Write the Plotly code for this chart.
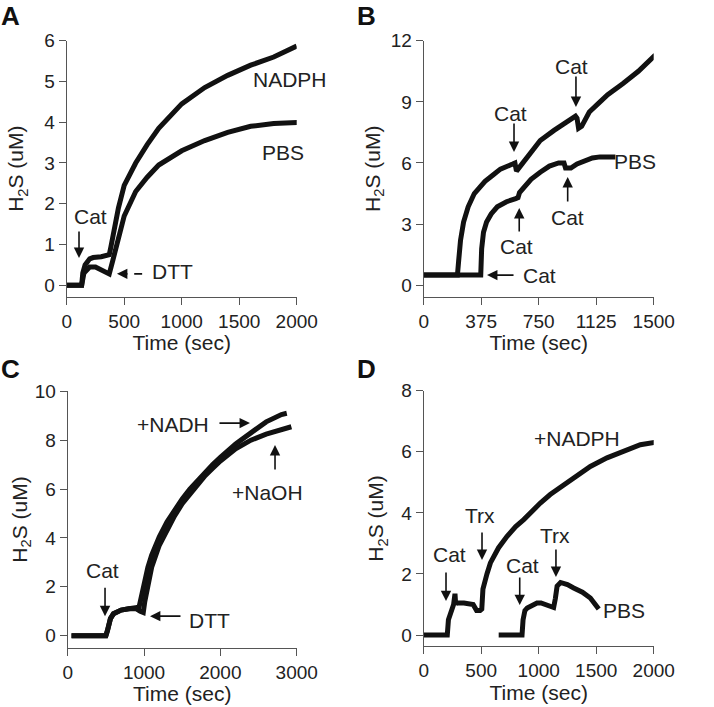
import plotly.graph_objects as go

# ---------------- data ----------------
# Panel A
a_nadph_t = [0, 60, 130, 140, 160, 200, 230, 300, 370, 385, 400, 450, 500, 600, 700, 800, 1000, 1200, 1400, 1600, 1800, 2000]
a_nadph_v = [0, 0, 0, 0.3, 0.5, 0.65, 0.68, 0.7, 0.75, 0.95, 1.2, 1.9, 2.45, 3.0, 3.45, 3.85, 4.45, 4.85, 5.15, 5.4, 5.6, 5.87]
a_pbs_t = [0, 60, 130, 150, 200, 250, 300, 370, 400, 450, 500, 600, 700, 800, 1000, 1200, 1400, 1600, 1800, 2040]
a_pbs_v = [0, 0, 0, 0.3, 0.45, 0.45, 0.38, 0.28, 0.6, 1.2, 1.7, 2.3, 2.65, 2.95, 3.3, 3.55, 3.75, 3.9, 3.97, 4.0]

# Panel B
b_nadph_t = [0, 100, 220, 228, 240, 260, 290, 330, 400, 450, 500, 580, 595, 605, 620, 650, 700, 760, 850, 950, 990, 1000, 1010, 1030, 1080, 1150, 1200, 1300, 1400, 1510]
b_nadph_v = [0.5, 0.5, 0.5, 1.2, 2.2, 3.1, 3.85, 4.5, 5.1, 5.4, 5.7, 5.95, 6.0, 5.6, 5.75, 6.1, 6.6, 7.1, 7.6, 8.1, 8.3, 8.2, 7.7, 7.8, 8.5, 9.0, 9.35, 9.9, 10.5, 11.3]
b_pbs_t = [0, 100, 250, 372, 378, 390, 410, 440, 480, 540, 600, 615, 625, 660, 700, 760, 820, 880, 915, 925, 960, 1000, 1050, 1100, 1150, 1200, 1250]
b_pbs_v = [0.5, 0.5, 0.5, 0.5, 1.8, 2.6, 3.1, 3.5, 3.85, 4.1, 4.25, 4.3, 4.55, 4.9, 5.2, 5.55, 5.85, 6.0, 6.0, 5.75, 5.75, 5.95, 6.1, 6.25, 6.3, 6.3, 6.3]

# Panel C
c_nadh_t = [50, 300, 500, 520, 560, 600, 700, 800, 900, 930, 960, 1000, 1050, 1100, 1200, 1300, 1400, 1500, 1600, 1700, 1800, 1900, 2000, 2200, 2400, 2600, 2800, 2870]
c_nadh_v = [0, 0, 0, 0.2, 0.7, 0.9, 1.05, 1.1, 1.15, 1.1, 1.5, 2.2, 2.8, 3.3, 4.05, 4.65, 5.15, 5.6, 6.0, 6.35, 6.7, 7.0, 7.3, 7.85, 8.3, 8.75, 9.05, 9.1]
c_naoh_t = [50, 300, 500, 520, 560, 600, 700, 800, 900, 950, 990, 1010, 1050, 1100, 1200, 1300, 1400, 1500, 1600, 1700, 1800, 1900, 2000, 2200, 2400, 2600, 2800, 2930]
c_naoh_v = [0, 0, 0, 0.2, 0.7, 0.9, 1.05, 1.1, 1.1, 1.0, 0.95, 1.4, 2.1, 2.8, 3.7, 4.35, 4.9, 5.4, 5.8, 6.2, 6.55, 6.85, 7.15, 7.65, 8.0, 8.25, 8.45, 8.55]

# Panel D
d_nadph_t = [0, 100, 205, 215, 232, 260, 272, 278, 285, 300, 350, 430, 460, 490, 505, 515, 530, 550, 580, 650, 725, 800, 870, 950, 1014, 1100, 1159, 1304, 1449, 1594, 1739, 1884, 2014]
d_nadph_v = [0, 0, 0, 0.5, 0.7, 1.0, 1.35, 1.0, 1.05, 1.05, 1.05, 1.0, 0.8, 0.8, 0.85, 1.5, 1.8, 2.0, 2.36, 2.85, 3.23, 3.55, 3.78, 4.1, 4.32, 4.6, 4.76, 5.14, 5.52, 5.8, 6.0, 6.23, 6.31]
d_pbs_t = [652, 750, 855, 864, 880, 900, 950, 985, 1020, 1060, 1100, 1130, 1145, 1160, 1190, 1250, 1304, 1380, 1449, 1500, 1522]
d_pbs_v = [0, 0, 0, 0.5, 0.8, 0.88, 0.98, 1.05, 1.05, 0.98, 0.93, 0.9, 1.2, 1.6, 1.72, 1.65, 1.54, 1.4, 1.21, 1.0, 0.85]

# axis ticks
a_xticks = [0, 500, 1000, 1500, 2000]
a_yticks = [0, 1, 2, 3, 4, 5, 6]
b_xticks = [0, 375, 750, 1125, 1500]
b_yticks = [0, 3, 6, 9, 12]
c_xticks = [0, 1000, 2000, 3000]
c_yticks = [0, 2, 4, 6, 8, 10]
d_xticks = [0, 500, 1000, 1500, 2000]
d_yticks = [0, 2, 4, 6, 8]

# labels: (axis suffix, text, x, y)
text_labels = [
    ("", "Cat", 203, 1.68), ("", "NADPH", 1942, 5.04), ("", "PBS", 1881, 3.25), ("", "DTT", 924, 0.33),
    ("2", "NADPH", 1606, 9.19), ("2", "PBS", 1378, 6.05), ("2", "Cat", 563, 8.45), ("2", "Cat", 967, 10.71),
    ("2", "Cat", 608, 1.88), ("2", "Cat", 941, 3.35), ("2", "Cat", 752, 0.5),
    ("3", "Cat", 462, 2.65), ("3", "DTT", 1864, 0.64), ("3", "+NADH", 1379, 8.66), ("3", "+NaOH", 2623, 5.84),
    ("4", "+NADPH", 1333, 6.45), ("4", "PBS", 1742, 0.79), ("4", "Cat", 220, 2.62), ("4", "Trx", 490, 3.9),
    ("4", "Cat", 855, 2.29), ("4", "Trx", 1142, 3.27),
]
# arrows: (axis suffix, head x, head y, tail dx px, tail dy px)
arrows = [
    ("", 107, 0.67, 0, -28), ("", 437, 0.28, 12, 0),
    ("2", 589, 6.54, 0, -30), ("2", 993, 8.75, 0, -32), ("2", 623, 3.79, 0, 25), ("2", 939, 5.31, 0, 26), ("2", 413, 0.5, 28, 0),
    ("3", 489, 0.8, 0, -30), ("3", 1078, 0.8, 32, 0), ("3", 2388, 8.7, -32, 0), ("3", 2716, 7.8, 0, 26),
    ("4", 194, 1.11, 0, -30), ("4", 507, 2.46, 0, -29), ("4", 835, 0.98, 0, -29), ("4", 1150, 1.9, 0, -29),
]
dtt_dash_t = [587, 656]
dtt_dash_v = [0.28, 0.28]

panel_letters = ["A", "B", "C", "D"]

# ---------------- figure ----------------
FONT = "Liberation Sans, Arial, Helvetica, sans-serif"
W, H = 714, 707
fig = go.Figure()

series = [
    ("", a_nadph_t, a_nadph_v), ("", a_pbs_t, a_pbs_v),
    ("2", b_nadph_t, b_nadph_v), ("2", b_pbs_t, b_pbs_v),
    ("3", c_nadh_t, c_nadh_v), ("3", c_naoh_t, c_naoh_v),
    ("4", d_nadph_t, d_nadph_v), ("4", d_pbs_t, d_pbs_v),
]
for suf, t, v in series:
    fig.add_trace(go.Scatter(x=t, y=v, mode="lines", xaxis="x" + suf, yaxis="y" + suf,
                             line=dict(color="#111111", width=5), showlegend=False, hoverinfo="skip"))

def px_x(p):
    return p / W

def px_y(p):
    return 1 - p / H

axcol = "#555555"
common = dict(showline=True, linecolor=axcol, linewidth=1, ticks="outside", ticklen=7, tickcolor=axcol,
              tickwidth=1, showgrid=False, zeroline=False, automargin=False,
              tickfont=dict(family=FONT, size=19, color="#222"))

panels = [
    ("", (66.7, 296.7), (40.7, 296.7), [0, 2000], [-0.28, 6], a_xticks, a_yticks, 14),
    ("2", (423.7, 653.7), (40.7, 296.7), [0, 1500], [-0.56, 12], b_xticks, b_yticks, 4),
    ("3", (67.7, 296.7), (391.3, 647.7), [0, 3000], [-0.49, 10], c_xticks, c_yticks, 1),
    ("4", (423.7, 653.7), (390.7, 646.3), [0, 2000], [-0.37, 8], d_xticks, d_yticks, 11),
]
layout = {}
for suf, (x0, x1), (ytop, ybot), xr, yr, xt, yt, ystand in panels:
    xname = "xaxis" + suf
    yname = "yaxis" + suf
    layout[xname] = dict(common, domain=[px_x(x0), px_x(x1)], range=xr, tickvals=xt,
                         anchor="y" + suf,
                         title=dict(text="Time (sec)", font=dict(family=FONT, size=21, color="#222"), standoff=0))
    layout[yname] = dict(common, domain=[px_y(ybot), px_y(ytop)], range=yr, tickvals=yt,
                         anchor="x" + suf,
                         title=dict(text="H<sub>2</sub>S (uM)", font=dict(family=FONT, size=21, color="#222"),
                                    standoff=ystand))

annotations = []
for suf, txt, x, y in text_labels:
    annotations.append(dict(xref="x" + suf, yref="y" + suf, x=x, y=y, text=txt, showarrow=False,
                            xanchor="center", yanchor="middle",
                            font=dict(family=FONT, size=21, color="#222")))
for suf, x, y, dx, dy in arrows:
    annotations.append(dict(xref="x" + suf, yref="y" + suf, x=x, y=y, text="", showarrow=True,
                            ax=dx, ay=dy, arrowhead=2, arrowsize=1.3, arrowwidth=1.6, arrowcolor="#111",
                            standoff=0, startstandoff=0))
letter_pos = [(10, 16), (367, 16), (10, 369), (367, 369)]
for L, (lx, ly) in zip(panel_letters, letter_pos):
    annotations.append(dict(xref="paper", yref="paper", x=px_x(lx), y=px_y(ly), text="<b>%s</b>" % L,
                            xanchor="center", yanchor="middle", showarrow=False,
                            font=dict(family=FONT, size=26, color="#111")))

shapes = [dict(type="line", xref="x", yref="y", x0=dtt_dash_t[0], x1=dtt_dash_t[1],
               y0=dtt_dash_v[0], y1=dtt_dash_v[1], line=dict(color="#111", width=1.6))]

fig.update_layout(template="none", width=W, height=H, margin=dict(l=0, r=0, t=0, b=0, autoexpand=False),
                  paper_bgcolor="white", plot_bgcolor="white", annotations=annotations, shapes=shapes,
                  **layout)
fig.write_html("out.html", config={"displayModeBar": False},
               post_script="document.body.style.margin='0px';document.body.style.overflow='hidden';")
